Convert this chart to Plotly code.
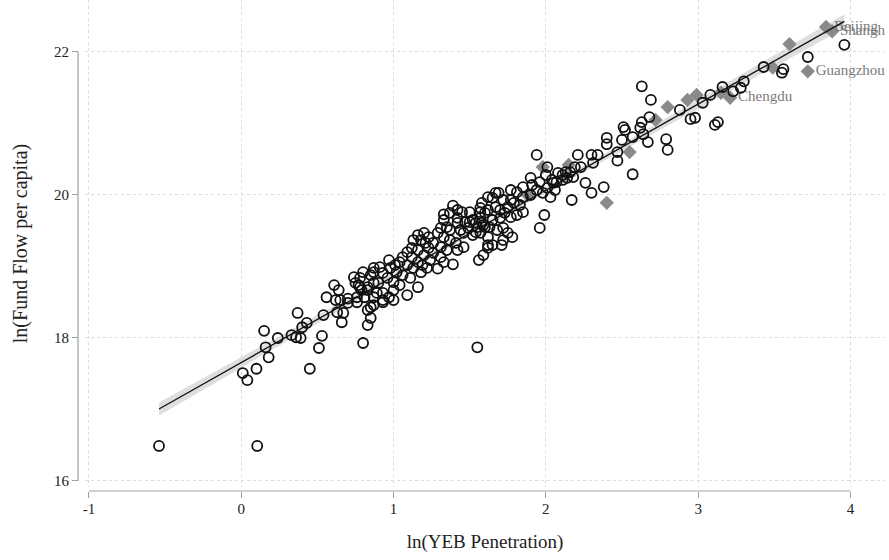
import numpy as np
import plotly.graph_objects as go

# ---- data ----
circle_x = [
    -0.54, 0.105, 1.55,
    0.37, 0.15, 0.16, 0.18, 0.10, 0.01, 0.04, 0.24, 0.33, 0.36, 0.39, 0.40, 0.43, 0.54, 0.53, 0.51, 0.45,
    0.56, 0.61, 0.64, 0.62, 0.65, 0.70, 0.76, 0.63, 0.67, 0.66, 0.80, 0.83, 0.85, 0.83, 0.85, 0.74, 0.80,
    0.77, 0.79, 0.83, 0.89, 0.93, 0.90, 0.87,
    1.33, 1.39, 1.42, 1.45, 1.58, 1.57, 1.60, 1.62, 1.50, 1.54, 1.58, 1.60, 1.54, 1.57, 1.62, 1.56, 1.59,
    1.62, 1.42, 1.44, 1.37, 1.31, 1.29, 1.33, 1.37, 1.41, 1.46, 1.42, 1.35, 1.31, 1.26, 1.23, 1.20, 1.16,
    1.13, 1.18, 1.21, 1.23, 1.26, 1.31, 1.33, 1.39, 1.29, 1.24, 1.20, 1.16, 1.12, 1.09, 1.06, 1.12, 1.16,
    1.19, 1.22, 1.18, 1.13, 1.09, 1.04, 1.01, 0.98, 1.02, 1.06, 1.11, 1.16, 1.09, 1.04, 1.00, 0.96, 0.93,
    0.97, 0.91, 0.87, 0.85, 0.78, 0.75, 0.78, 0.83, 0.87, 0.93, 0.97, 1.00, 0.93, 0.87, 0.81, 0.76, 0.70,
    0.87, 1.00,
    1.94, 2.21, 2.01, 2.08, 2.13, 2.16, 2.04, 2.07, 2.11, 2.14, 2.18, 2.01, 2.06, 2.03, 1.98, 1.94, 1.91,
    1.90, 1.85, 1.90, 1.85, 1.81, 1.77, 1.77, 1.72, 1.69, 1.67, 1.65, 1.57, 1.62, 1.67, 1.70, 1.75, 1.79,
    1.83, 1.85, 1.81, 1.77, 1.73, 1.70, 1.65, 1.57, 1.52, 1.50, 1.37, 1.42, 1.47, 1.49, 1.55, 1.59, 1.63,
    1.68, 1.72, 1.52, 1.46, 1.35, 1.33, 1.75, 1.78, 1.72, 1.62, 1.65, 1.71, 2.17, 1.99, 1.96, 2.00, 1.96,
    2.05,
    2.63, 2.69, 2.88, 2.95, 2.98, 3.03, 3.08, 3.11, 3.13, 2.68, 2.63, 2.62, 2.51, 2.52, 2.57, 2.64, 2.67,
    2.50, 2.40, 2.40, 2.47, 2.47, 2.34, 2.30, 2.31, 2.23, 2.19, 2.11, 2.79, 2.80, 2.57, 2.26, 2.30, 2.38,
    3.96, 3.72, 3.56, 3.55, 3.43, 3.30, 3.28, 3.23, 3.16,
]
circle_y = [
    16.49, 16.49, 17.87,
    18.35, 18.10, 17.87, 17.73, 17.57, 17.51, 17.41, 18.00, 18.04, 18.01, 18.00, 18.15, 18.21, 18.32, 18.03, 17.86, 17.57,
    18.57, 18.74, 18.67, 18.53, 18.53, 18.55, 18.50, 18.36, 18.35, 18.22, 17.93, 18.18, 18.28, 18.39, 18.43, 18.85, 18.92,
    18.74, 18.67, 18.67, 18.63, 18.50, 18.77, 18.92,
    19.73, 19.85, 19.79, 19.76, 19.89, 19.76, 19.75, 19.97, 19.62, 19.61, 19.61, 19.55, 19.48, 19.47, 19.41, 19.09, 19.16,
    19.26, 19.61, 19.51, 19.51, 19.54, 19.47, 19.41, 19.37, 19.33, 19.27, 19.23, 19.23, 19.27, 19.33, 19.41, 19.47, 19.44,
    19.37, 19.37, 19.33, 19.26, 19.19, 19.13, 19.06, 19.03, 18.97, 19.09, 19.16, 19.23, 19.26, 19.20, 19.13, 19.13, 19.06,
    19.02, 18.98, 18.92, 18.98, 19.02, 19.06, 19.02, 18.98, 18.92, 18.88, 18.84, 18.71, 18.60, 18.74, 18.78, 18.84, 18.91,
    19.09, 18.99, 18.98, 18.88, 18.84, 18.77, 18.71, 18.71, 18.77, 18.63, 18.57, 18.53, 18.53, 18.57, 18.57, 18.57, 18.49,
    18.46, 18.67,
    20.56, 20.56, 20.39, 20.31, 20.32, 20.32, 20.21, 20.18, 20.21, 20.24, 20.25, 20.10, 20.07, 19.97, 20.03, 20.07, 20.14,
    20.24, 20.11, 20.00, 19.97, 20.04, 20.07, 19.93, 19.93, 20.03, 20.03, 19.96, 19.82, 19.79, 19.83, 19.79, 19.83, 19.89,
    19.86, 19.76, 19.72, 19.69, 19.75, 19.68, 19.65, 19.68, 19.65, 19.76, 19.75, 19.68, 19.62, 19.54, 19.55, 19.58, 19.55,
    19.51, 19.54, 19.44, 19.47, 19.55, 19.65, 19.47, 19.41, 19.37, 19.30, 19.30, 19.30, 19.93, 19.72, 19.54, 20.28, 20.18,
    20.17,
    21.52, 21.33, 21.19, 21.06, 21.08, 21.29, 21.40, 20.98, 21.02, 21.09, 21.02, 20.94, 20.95, 20.91, 20.81, 20.85, 20.74,
    20.77, 20.80, 20.71, 20.60, 20.48, 20.56, 20.56, 20.45, 20.39, 20.39, 20.28, 20.78, 20.63, 20.29, 20.17, 20.03, 20.11,
    22.10, 21.93, 21.76, 21.71, 21.79, 21.59, 21.50, 21.45, 21.51,
]

diamond_x = [3.88, 3.84, 3.60, 3.72, 3.49, 3.21, 3.15, 2.99, 2.93, 2.80, 2.72, 2.55, 2.40, 2.15, 1.98, 1.88]
diamond_y = [22.29, 22.35, 22.11, 21.73, 21.78, 21.36, 21.43, 21.40, 21.33, 21.23, 21.05, 20.60, 19.89, 20.42, 20.39, 20.00]
diamond_labels = ["Shanghai", "Beijing", "", "Guangzhou", "", "Chengdu", "", "", "", "", "", "", "", "", "", ""]

x_ticks = [-1, 0, 1, 2, 3, 4]
y_ticks = [16, 18, 20, 22]
x_title = "ln(YEB Penetration)"
y_title = "ln(Fund Flow per capita)"

# ---- linear fit with 95% CI of the mean prediction ----
ax = np.array(circle_x + diamond_x)
ay = np.array(circle_y + diamond_y)
n = len(ax)
b1, b0 = np.polyfit(ax, ay, 1)
resid = ay - (b0 + b1 * ax)
s = np.sqrt(np.sum(resid ** 2) / (n - 2))
xbar = ax.mean()
sxx = np.sum((ax - xbar) ** 2)
gx = np.linspace(ax.min(), ax.max(), 100)
gy = b0 + b1 * gx
se = s * np.sqrt(1.0 / n + (gx - xbar) ** 2 / sxx)
lo = gy - 1.97 * se
hi = gy + 1.97 * se

FONT = "Liberation Serif, Times New Roman, serif"
AXC = "#a0a0a0"
TXT = "#222222"

fig = go.Figure()
fig.add_trace(go.Scatter(
    x=np.concatenate([gx, gx[::-1]]), y=np.concatenate([hi, lo[::-1]]),
    fill="toself", fillcolor="rgba(200,200,200,0.6)", line=dict(width=0),
    mode="lines", hoverinfo="skip", showlegend=False))
fig.add_trace(go.Scatter(
    x=diamond_x, y=diamond_y, mode="markers+text", text=diamond_labels,
    textposition="middle right", textfont=dict(family=FONT, size=15, color="#7a7a7a"),
    marker=dict(symbol="diamond", size=11, color="#8a8a8a", line=dict(width=0)),
    showlegend=False))
fig.add_trace(go.Scatter(
    x=circle_x, y=circle_y, mode="markers",
    marker=dict(symbol="circle-open", size=10, color="#111111", line=dict(width=1.8, color="#111111")),
    showlegend=False))
fig.add_trace(go.Scatter(
    x=gx, y=gy, mode="lines", line=dict(color="#111111", width=1.3), showlegend=False))

# axis lines spanning only the tick range (Stata style)
fig.add_shape(type="line", xref="x", yref="paper", x0=x_ticks[0], x1=x_ticks[-1], y0=0, y1=0,
              line=dict(color=AXC, width=1.2))
fig.add_shape(type="line", xref="paper", yref="y", x0=0, x1=0, y0=y_ticks[0], y1=y_ticks[-1],
              line=dict(color=AXC, width=1.2))

fig.update_layout(
    width=889, height=560,
    margin=dict(l=78, r=4, t=0, b=69),
    paper_bgcolor="white", plot_bgcolor="white",
    font=dict(family=FONT, color=TXT),
    xaxis=dict(
        domain=[7 / 807, 1], range=[-1.026, 4.227], anchor="free", position=0,
        tickvals=x_ticks, ticktext=[str(t) for t in x_ticks],
        ticks="outside", ticklen=6, tickcolor=AXC, tickwidth=1,
        tickfont=dict(family=FONT, size=15, color=TXT), ticklabelstandoff=-2,
        showline=False, zeroline=False,
        showgrid=True, gridcolor="#dcdcdc", griddash="dot", gridwidth=1,
        title=dict(text=x_title, font=dict(family=FONT, size=19, color=TXT), standoff=18),
    ),
    yaxis=dict(
        domain=[4 / 491, 1], range=[15.916, 22.727], anchor="free", position=0,
        tickvals=y_ticks, ticktext=[str(t) for t in y_ticks],
        ticks="outside", ticklen=6, tickcolor=AXC, tickwidth=1,
        tickfont=dict(family=FONT, size=15, color=TXT),
        showline=False, zeroline=False,
        showgrid=True, gridcolor="#dcdcdc", griddash="dot", gridwidth=1,
        title=dict(text=y_title, font=dict(family=FONT, size=20, color=TXT), standoff=20),
    ),
)

fig.write_html("out.html")
